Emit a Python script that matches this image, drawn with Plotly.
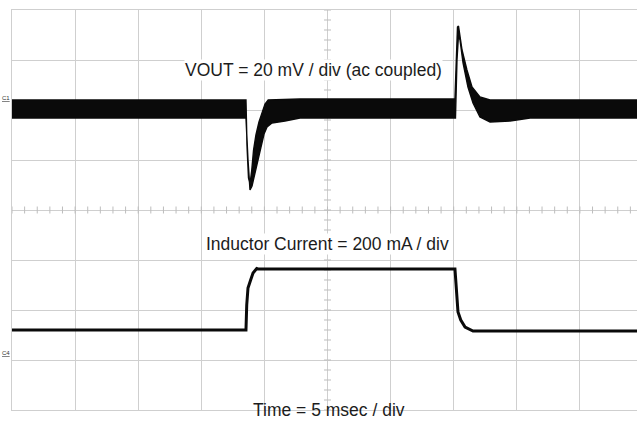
import plotly.graph_objects as go

# ---- Data read from the scope capture (time in ms, 5 ms/div) ----
# VOUT (ac coupled, mV, 20 mV/div): upper and lower edge of the noisy trace
vout_upper_t = [0.0, 18.46, 18.54, 18.62, 18.74, 18.86, 19.00, 19.14, 19.33, 19.57, 19.81, 20.05, 20.30,
                22.82, 35.10, 35.18, 35.30, 35.38, 35.66, 36.05, 36.45, 37.08, 37.88, 49.6]
vout_upper_v = [4.0, 4.0, 4.0, -14.0, -27.2, -29.6, -24.0, -16.0, -10.0, -4.8, -0.8, 2.4, 4.0,
                4.4, 4.4, 20.0, 33.2, 33.6, 24.0, 16.0, 9.2, 5.2, 4.0, 4.0]
vout_lower_t = [0.0, 18.54, 18.70, 18.86, 19.02, 19.26, 19.49, 19.73, 19.97, 20.21, 20.60, 21.63, 22.82,
                35.14, 35.26, 35.38, 35.50, 35.74, 36.13, 36.53, 37.08, 37.88, 39.46, 41.05, 49.6]
vout_lower_v = [-3.2, -3.2, -20.0, -32.0, -30.4, -25.0, -20.0, -14.8, -9.6, -6.8, -5.2, -4.4, -3.2,
                -3.2, 20.0, 30.0, 28.0, 18.8, 9.2, 2.8, -2.8, -4.8, -4.4, -3.2, -3.2]

# Inductor current (mA, 200 mA/div)
il_t = [0.0, 18.54, 18.60, 18.70, 18.91, 19.10, 19.39, 19.49, 35.10, 35.24, 35.34, 35.56, 35.90, 36.53, 49.6]
il_ma = [92, 92, 192, 260, 292, 320, 338, 336, 336, 232, 164, 132, 104, 88, 88]

# Scope settings / labels
time_per_div = 5        # ms
vout_per_div = 20       # mV
il_per_div = 200        # mA
label_vout = "VOUT = 20 mV / div (ac coupled)"
label_il = "Inductor Current = 200 mA / div"
label_time = "Time = 5 msec / div"

W, H = 637, 433
ML, MT, MB = 12, 10, 23
plot_w = W - ML
plot_h = H - MT - MB
px_per_div_x = 63.1
x_max = plot_w / px_per_div_x * time_per_div

vout_range = [-6 * vout_per_div, 2 * vout_per_div]
il_range = [-1.14 * il_per_div, 6.86 * il_per_div]

grid_col = "#cfcfcf"
text_col = "#1c1c1c"
font_fam = "Liberation Sans, Arial, sans-serif"


def px(xp, yp):
    """pixel position in the image -> paper coordinates"""
    return (xp - ML) / plot_w, 1 - (yp - MT) / plot_h


fig = go.Figure()

# minor ticks on the centre graticule lines
n_minor_x = int(x_max / (time_per_div / 5)) + 1
fig.add_trace(go.Scatter(
    x=[i * time_per_div / 5 for i in range(n_minor_x)],
    y=[vout_range[0] + 4 * vout_per_div] * n_minor_x,
    mode="markers", hoverinfo="skip", showlegend=False,
    marker=dict(symbol="line-ns", size=5, line=dict(color="#bdbdbd", width=1))))
n_minor_y = 8 * 5 + 1
fig.add_trace(go.Scatter(
    x=[5 * time_per_div] * n_minor_y,
    y=[vout_range[0] + i * vout_per_div / 5 for i in range(n_minor_y)],
    mode="markers", hoverinfo="skip", showlegend=False,
    marker=dict(symbol="line-ew", size=5, line=dict(color="#bdbdbd", width=1))))

# VOUT band
fig.add_trace(go.Scatter(
    x=vout_upper_t + vout_lower_t[::-1],
    y=vout_upper_v + vout_lower_v[::-1],
    mode="lines", fill="toself", fillcolor="#0a0a0a",
    line=dict(color="#0a0a0a", width=1.4), hoverinfo="skip", showlegend=False))

# Inductor current
fig.add_trace(go.Scatter(
    x=il_t, y=il_ma, yaxis="y2", mode="lines",
    line=dict(color="#0a0a0a", width=3), hoverinfo="skip", showlegend=False))

for lab, (lx, ly), bg in [(label_vout, (313, 59), "white"), (label_il, (327, 244), "white"),
                          (label_time, (329, 421), "rgba(0,0,0,0)")]:
    ax, ay = px(lx, ly)
    fig.add_annotation(x=ax, y=ay, xref="paper", yref="paper", text=lab, showarrow=False,
                       bgcolor=bg, borderpad=0, font=dict(family=font_fam, size=17.5, color=text_col))

fig.add_annotation(x=0, y=5, xref="paper", yref="y", xanchor="right", text="<u>C1</u>", showarrow=False,
                   font=dict(family=font_fam, size=6, color="#333"))
fig.add_annotation(x=0, y=0, xref="paper", yref="y2", xanchor="right", text="<u>C4</u>", showarrow=False,
                   font=dict(family=font_fam, size=6, color="#333"))

fig.update_layout(
    width=W, height=H, margin=dict(l=ML, r=0, t=MT, b=MB),
    paper_bgcolor="white", plot_bgcolor="white",
    xaxis=dict(range=[0, x_max], dtick=time_per_div, tick0=0, showgrid=True, gridcolor=grid_col,
               gridwidth=1, zeroline=False, showticklabels=False, ticks="",
               showline=True, linecolor=grid_col, mirror=True),
    yaxis=dict(range=vout_range, dtick=vout_per_div, tick0=0, showgrid=True, gridcolor=grid_col,
               zeroline=False, showticklabels=False, ticks="", showline=True, linecolor=grid_col),
    yaxis2=dict(range=il_range, overlaying="y", showgrid=False, zeroline=False,
                showticklabels=False, ticks="", showline=False),
    showlegend=False,
)

fig.write_html("out.html", config={"displayModeBar": False},
               post_script="document.body.style.margin='0';document.body.style.padding='0';"
                           "document.body.style.overflow='hidden';")
